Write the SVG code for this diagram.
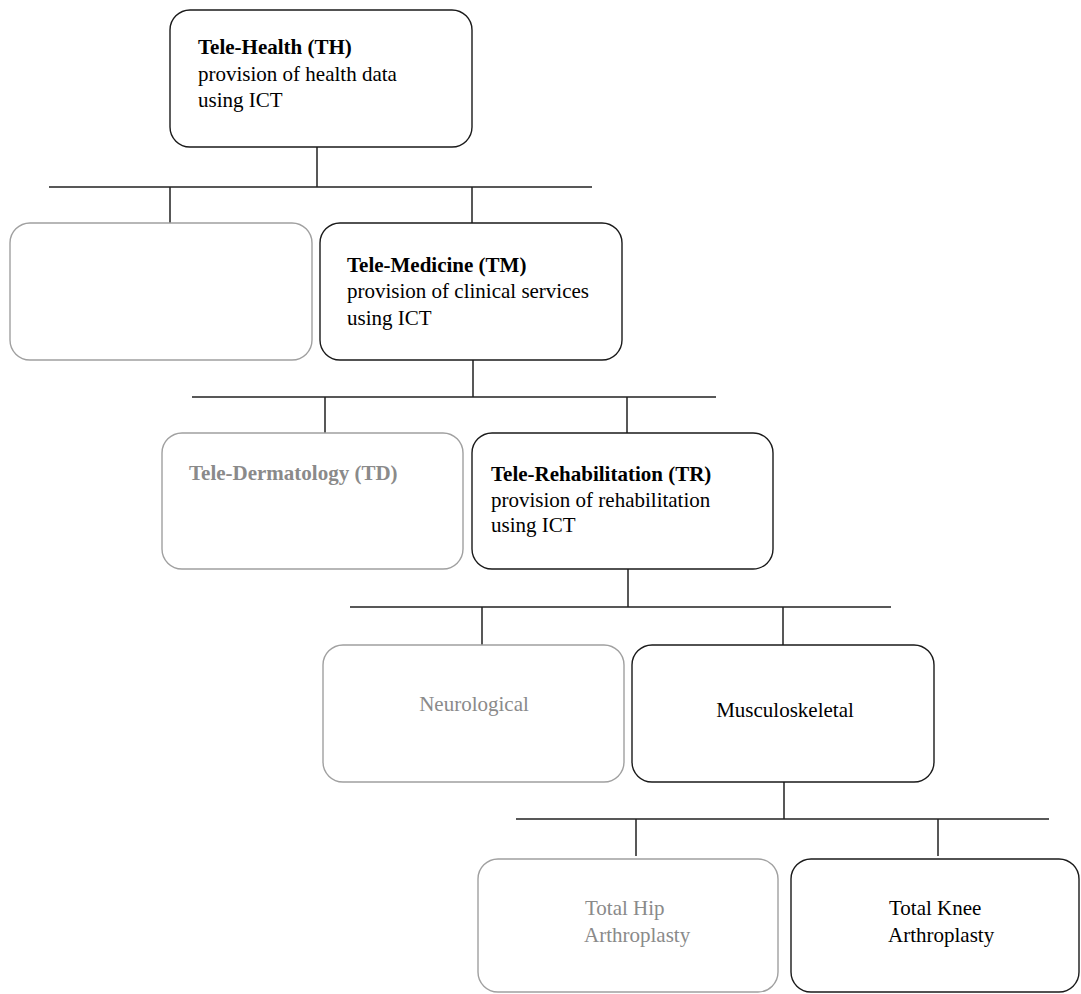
<svg xmlns="http://www.w3.org/2000/svg" width="1081" height="994" viewBox="0 0 1081 994">
<style>
.box{fill:#fff;stroke-width:1.4}
.on{stroke:#1a1a1a}
.off{stroke:#a0a0a0}
text{font-family:"Liberation Serif","Times New Roman",serif;font-size:21px}
.t{fill:#000}
.g{fill:#8a8a8a}
.b{font-weight:bold}
.c{stroke:#222;stroke-width:1.5;fill:none}
</style>
<rect width="1081" height="994" fill="#fff"/>
<g id="connectors">
<path class="c" d="M317 147V187M49 187H592M170 187V223M472 187V223"/>
<path class="c" d="M473 360V397M192 397H716M325 397V433M627 397V433"/>
<path class="c" d="M628 569V607M350 607H891M482 607V645M783 607V645"/>
<path class="c" d="M784 782V819M516 819H1049M636 819V856M938 819V856"/>
</g>
<g id="th">
<rect class="box on" x="170" y="10" width="302" height="137" rx="20"/>
<text class="t" x="198" y="54"><tspan class="b">Tele-Health (TH)</tspan><tspan x="198" y="81">provision of health data</tspan><tspan x="198" y="107">using ICT</tspan></text>
</g>
<g id="blank">
<rect class="box off" x="10" y="223" width="302" height="137" rx="20"/>
</g>
<g id="tm">
<rect class="box on" x="320" y="223" width="302" height="137" rx="20"/>
<text class="t" x="347" y="272"><tspan class="b">Tele-Medicine (TM)</tspan><tspan x="347" y="298">provision of clinical services</tspan><tspan x="347" y="325">using ICT</tspan></text>
</g>
<g id="td">
<rect class="box off" x="162" y="433" width="301" height="136" rx="20"/>
<text class="g b" x="189" y="480">Tele-Dermatology (TD)</text>
</g>
<g id="tr">
<rect class="box on" x="472" y="433" width="301" height="136" rx="20"/>
<text class="t" x="491" y="481"><tspan class="b">Tele-Rehabilitation (TR)</tspan><tspan x="491" y="507">provision of rehabilitation</tspan><tspan x="491" y="532">using ICT</tspan></text>
</g>
<g id="neuro">
<rect class="box off" x="323" y="645" width="301" height="137" rx="20"/>
<text class="g" x="474" y="711" text-anchor="middle">Neurological</text>
</g>
<g id="musc">
<rect class="box on" x="632" y="645" width="302" height="137" rx="20"/>
<text class="t" x="785" y="717" text-anchor="middle">Musculoskeletal</text>
</g>
<g id="tha">
<rect class="box off" x="478" y="859" width="300" height="133" rx="20"/>
<text class="g" x="585" y="915">Total Hip<tspan x="584" y="942">Arthroplasty</tspan></text>
</g>
<g id="tka">
<rect class="box on" x="791" y="859" width="288" height="133" rx="20"/>
<text class="t" x="889" y="915">Total Knee<tspan x="888" y="942">Arthroplasty</tspan></text>
</g>
</svg>
